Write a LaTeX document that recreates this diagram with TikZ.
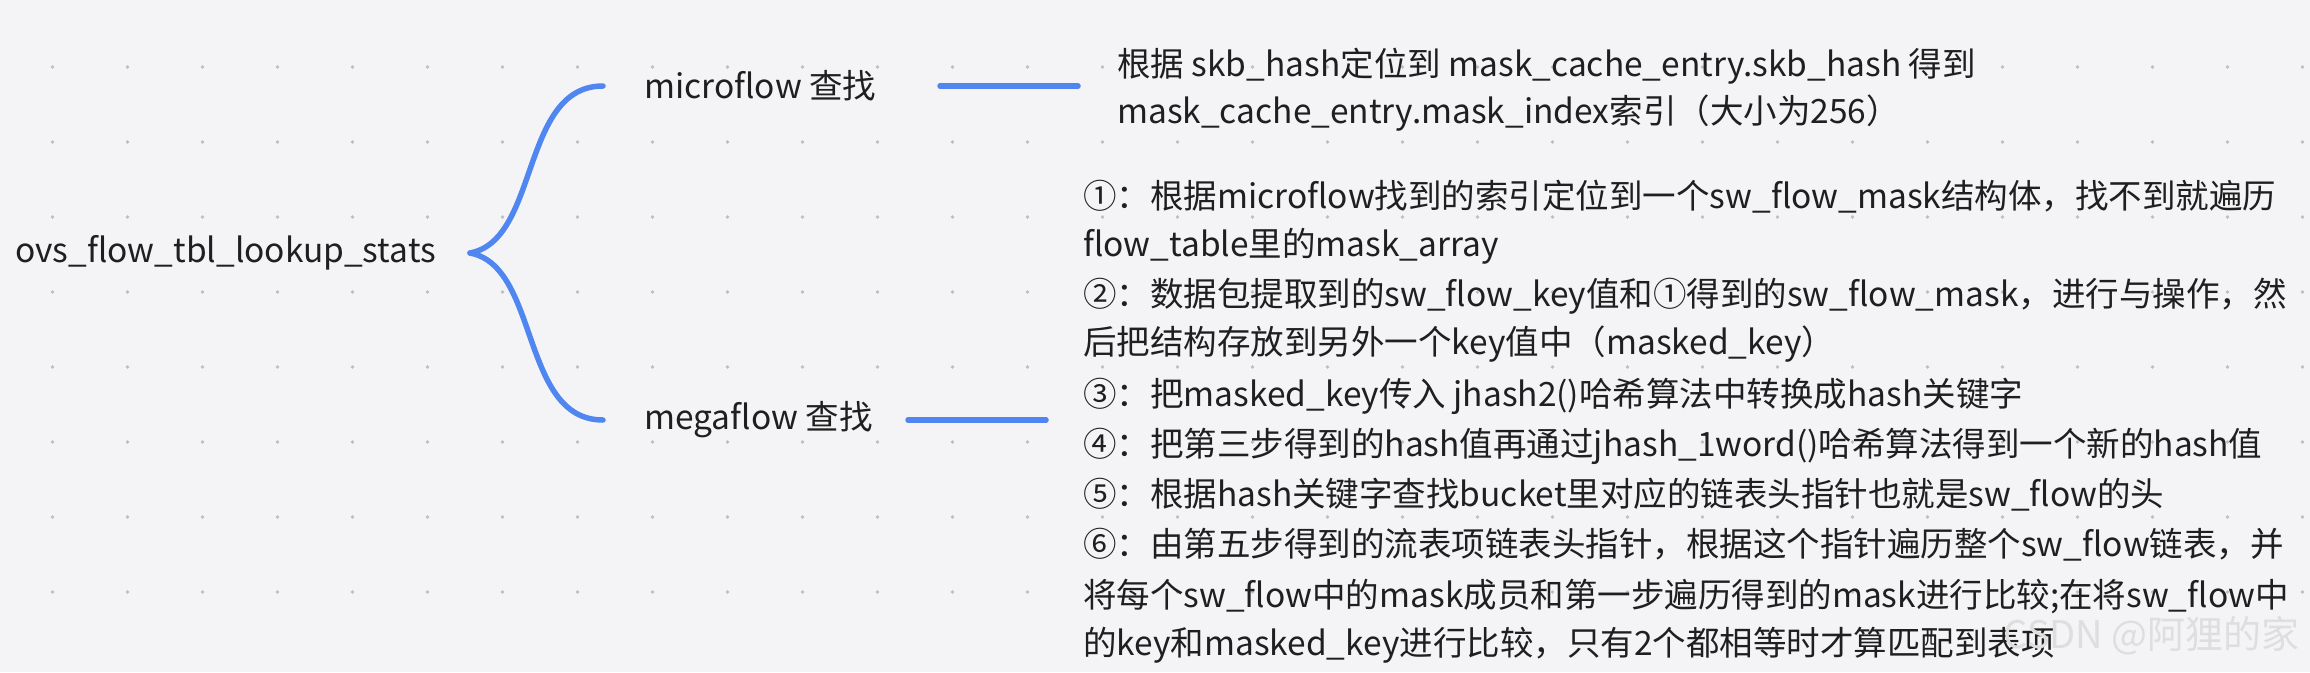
\documentclass[tikz,border=0pt]{standalone}
\usepackage{fontspec}
\setmainfont{Noto Sans CJK SC}
\begin{document}
\begin{tikzpicture}[x=1pt,y=-1pt,
  txt/.style={anchor=west,inner sep=0pt,font=\fontsize{33.5}{36}\selectfont,text=black!88}]
\definecolor{bg}{HTML}{F4F4F7}
\definecolor{lblue}{HTML}{4F86F0}
\tikzset{br/.style={draw=lblue,line width=5.5pt,line cap=round}}
\fill[bg] (0,0) rectangle (2310,672);
\useasboundingbox (0,0) rectangle (2310,672);
\foreach \i in {0,...,30}{\foreach \j in {0,...,8}{
  \fill[black!25] ({52.5+75*\i},{-8+75*\j}) circle (1.8);}}
\node[txt] (root) at (15,253) {ovs\_flow\_tbl\_lookup\_stats};
\coordinate (hub) at (470,253);
\node[txt] (mic) at (644,86) {microflow 查找};
\node[txt] (meg) at (644,420) {megaflow 查找};
\coordinate (me) at (603,86);
\coordinate (ge) at (603,420);
\draw[br] (hub) .. controls (540,240) and (520,86) .. (me);
\draw[br] (hub) .. controls (540,266) and (520,420) .. (ge);
\coordinate (m1) at (940,86); \coordinate (m2) at (1078,86);
\coordinate (g1) at (908,420); \coordinate (g2) at (1046,420);
\draw[br] (m1) -- (m2);
\draw[br] (g1) -- (g2);
\node[txt] (a1) at (1117,66) {根据 skb\_hash定位到 mask\_cache\_entry.skb\_hash 得到};
\node[txt] (a2) at (1117,113) {mask\_cache\_entry.mask\_index索引（大小为256）};
\node[txt] (b1) at (1083,197) {①：根据microflow找到的索引定位到一个sw\_flow\_mask结构体，找不到就遍历};
\node[txt] (b2) at (1083,246) {flow\_table里的mask\_array};
\node[txt] (b3) at (1083,296) {②：数据包提取到的sw\_flow\_key值和①得到的sw\_flow\_mask，进行与操作，然};
\node[txt] (b4) at (1083,344) {后把结构存放到另外一个key值中（masked\_key）};
\node[txt] (b5) at (1083,396) {③：把masked\_key传入 jhash2()哈希算法中转换成hash关键字};
\node[txt] (b6) at (1083,446) {④：把第三步得到的hash值再通过jhash\_1word()哈希算法得到一个新的hash值};
\node[txt] (b7) at (1083,495) {⑤：根据hash关键字查找bucket里对应的链表头指针也就是sw\_flow的头};
\node[txt] (b8) at (1083,545) {⑥：由第五步得到的流表项链表头指针，根据这个指针遍历整个sw\_flow链表，并};
\node[txt] (b9) at (1083,597) {将每个sw\_flow中的mask成员和第一步遍历得到的mask进行比较;在将sw\_flow中};
\node[txt] (b10) at (1083,645) {的key和masked\_key进行比较，只有2个都相等时才算匹配到表项};
\node[anchor=east,inner sep=0pt,font=\fontsize{38}{40}\selectfont,text=black!13] (wm) at (2300,636) {CSDN @阿狸的家};
\end{tikzpicture}
\end{document}
